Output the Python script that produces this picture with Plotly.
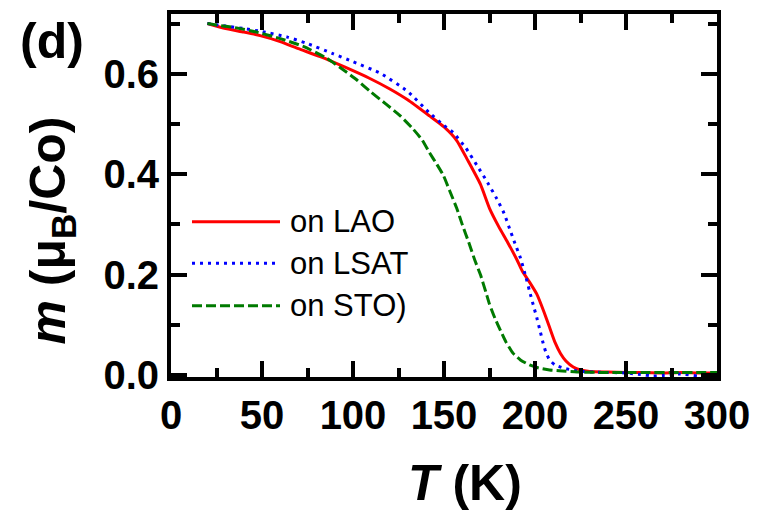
import plotly.graph_objects as go

# Magnetization m (mu_B/Co) versus temperature T (K) for films on three substrates
T_LAO = [20, 30, 40, 49, 60, 70, 82, 95, 109, 120, 130, 142, 150, 157, 163, 170, 175,
         180, 185, 190, 193, 197, 201, 205, 208, 211, 214, 217, 221, 225, 230, 240,
         250, 260, 270, 280, 290, 300]
m_LAO = [0.700, 0.690, 0.683, 0.676, 0.664, 0.650, 0.634, 0.614, 0.591, 0.570, 0.548,
         0.516, 0.494, 0.467, 0.428, 0.380, 0.332, 0.296, 0.264, 0.230, 0.207, 0.185,
         0.161, 0.125, 0.095, 0.065, 0.043, 0.028, 0.016, 0.010, 0.007, 0.006, 0.005,
         0.005, 0.004, 0.005, 0.004, 0.004]

T_LSAT = [20, 30, 40, 50, 64, 75, 89, 100, 115, 130, 142, 150, 155, 162, 168, 174, 179,
          183, 186, 189, 192, 195, 197, 199, 201, 203, 204.5, 206, 208, 211, 215.5, 223,
          230, 240, 250, 258, 265, 270, 280, 290, 300]
m_LSAT = [0.700, 0.695, 0.690, 0.684, 0.673, 0.660, 0.640, 0.624, 0.601, 0.565, 0.522,
          0.497, 0.483, 0.452, 0.418, 0.383, 0.351, 0.322, 0.292, 0.262, 0.233, 0.195,
          0.167, 0.140, 0.114, 0.085, 0.063, 0.045, 0.030, 0.020, 0.014, 0.008, 0.006,
          0.005, 0.004, 0.001, -0.002, -0.001, 0.002, -0.002, 0.002]

T_STO = [20, 25, 35, 47, 60, 73, 85.5, 95, 102, 110, 118, 126, 133, 138, 142, 146, 149.6,
         153, 157, 160, 164, 167, 170, 173, 175, 178, 181, 184, 188, 192, 197, 202, 208,
         215, 223, 240, 260, 280, 300]
m_STO = [0.700, 0.697, 0.692, 0.683, 0.670, 0.654, 0.631, 0.607, 0.588, 0.563, 0.540,
         0.516, 0.490, 0.468, 0.443, 0.420, 0.398, 0.368, 0.332, 0.300, 0.260, 0.228,
         0.200, 0.165, 0.141, 0.113, 0.089, 0.066, 0.043, 0.030, 0.020, 0.014, 0.010,
         0.008, 0.006, 0.005, 0.005, 0.005, 0.005]

series_names = ["on LAO", "on LSAT", "on STO)"]
series_colors = ["#ff0000", "#0000ff", "#007a00"]
series_dash = ["solid", "3px,5px", "10px,4px"]

x_ticks = [0, 50, 100, 150, 200, 250, 300]
y_ticks = [0.0, 0.2, 0.4, 0.6]

FONT = "Liberation Sans, Arial, sans-serif"
W, H = 775, 517
L, R, TOP, B = 171, 58, 10, 140

fig = go.Figure()
for xs, ys, name, col, dash in zip([T_LAO, T_LSAT, T_STO], [m_LAO, m_LSAT, m_STO],
                                   series_names, series_colors, series_dash):
    fig.add_trace(go.Scatter(x=xs, y=ys, mode="lines", name=name, showlegend=False,
                             line=dict(color=col, width=3, dash=dash, shape="spline",
                                       smoothing=0.5)))

# Hand-drawn legend: long line samples with labels, in paper coordinates
pw, ph = W - L - R, H - TOP - B


def px_to_paper(px, py):
    return (px - L) / pw, (H - B - py) / ph


legend_rows = [220, 262, 305]
for name, col, dash, row in zip(series_names, series_colors, series_dash, legend_rows):
    x0, y0 = px_to_paper(192, row)
    x1, _ = px_to_paper(280, row)
    fig.add_shape(type="line", xref="paper", yref="paper", x0=x0, x1=x1, y0=y0, y1=y0,
                  line=dict(color=col, width=3, dash=dash))
    tx, _ = px_to_paper(288, row)
    fig.add_annotation(x=tx, y=y0, xref="paper", yref="paper", text=name, showarrow=False,
                       xanchor="left", yanchor="middle",
                       font=dict(family=FONT, size=31, color="black"))

# Panel label and axis titles
ax, ay = px_to_paper(52, 37)
fig.add_annotation(x=ax, y=ay, xref="paper", yref="paper", text="<b>(d)</b>",
                   showarrow=False, xanchor="center", yanchor="middle",
                   font=dict(family=FONT, size=50, color="black"))
ax, ay = px_to_paper(465, 484)
fig.add_annotation(x=ax, y=ay, xref="paper", yref="paper", text="<b><i>T</i> (K)</b>",
                   showarrow=False, xanchor="center", yanchor="middle",
                   font=dict(family=FONT, size=50, color="black"))
ax, ay = px_to_paper(52, 229)
fig.add_annotation(x=ax, y=ay, xref="paper", yref="paper",
                   text="<b><i>m</i> (μ<sub>B</sub>/Co)</b>", textangle=-90,
                   showarrow=False, xanchor="center", yanchor="middle",
                   font=dict(family=FONT, size=50, color="black"))

axis_common = dict(showline=True, linecolor="black", linewidth=4, mirror="ticks",
                   ticks="inside", ticklen=16, tickwidth=3.5, tickcolor="black",
                   showgrid=False, zeroline=False,
                   tickfont=dict(family=FONT, size=40, color="black", weight="bold"))

fig.update_xaxes(range=[0, 300], tickvals=x_ticks, ticktext=[str(v) for v in x_ticks],
                 minor=dict(dtick=25, tick0=0, ticks="inside", ticklen=9, tickwidth=3.5,
                            tickcolor="black"),
                 **axis_common)
fig.update_yaxes(range=[-0.004, 0.719], tickvals=y_ticks,
                 ticktext=[f"{v:.1f}" for v in y_ticks],
                 minor=dict(dtick=0.1, tick0=0, ticks="inside", ticklen=9, tickwidth=3.5,
                            tickcolor="black"),
                 **axis_common)

fig.update_layout(width=W, height=H, margin=dict(l=L, r=R, t=TOP, b=B),
                  paper_bgcolor="white", plot_bgcolor="white")

fig.write_html("out.html")
